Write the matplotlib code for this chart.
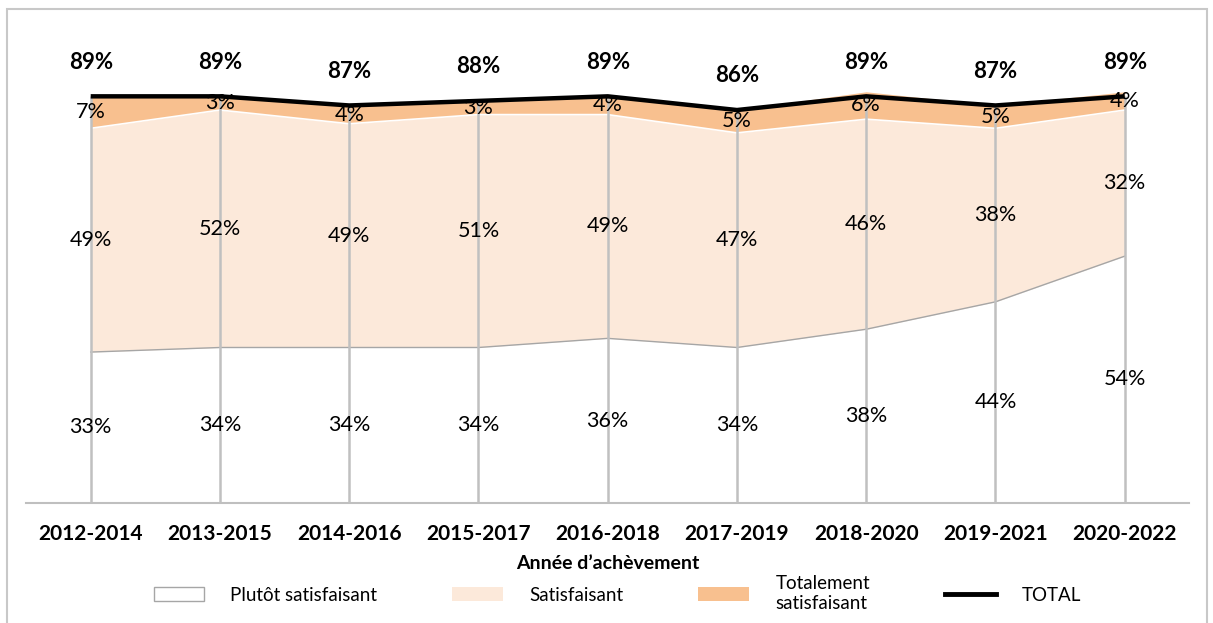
"""Stacked area chart of satisfaction by completion year range."""

import numpy as np
import matplotlib.pyplot as plt
from matplotlib.patches import Patch, Rectangle
from matplotlib.lines import Line2D

plt.rcParams['font.family'] = ['Lato', 'DejaVu Sans']

periods = ['2012-2014', '2013-2015', '2014-2016', '2015-2017', '2016-2018',
           '2017-2019', '2018-2020', '2019-2021', '2020-2022']
plutot = [33, 34, 34, 34, 36, 34, 38, 44, 54]
satisfaisant = [49, 52, 49, 51, 49, 47, 46, 38, 32]
totalement = [7, 3, 4, 3, 4, 5, 6, 5, 4]
total = [89, 89, 87, 88, 89, 86, 89, 87, 89]

x = np.arange(len(periods))
p = np.array(plutot)
s = np.array(satisfaisant)
t = np.array(totalement)

fig = plt.figure(figsize=(12.13, 6.23), dpi=100)
ax = fig.add_axes([0.0215, 0.193, 0.959, 0.733])

# --- stacked areas ---
ax.fill_between(x, 0, p, color='white', lw=0, zorder=1)
ax.plot(x, p, color='#a6a6a6', lw=1, zorder=2)
ax.fill_between(x, p, p + s, color='#fce9da', lw=0, zorder=1)
ax.fill_between(x, p + s, p + s + t, color='#f8c08f', lw=0, zorder=1)
ax.plot(x, p + s, color='white', lw=1.2, zorder=2)

# drop lines
ax.vlines(x, 0, total, color='#c0c0c0', lw=1.8, zorder=3)

# total line
ax.plot(x, total, color='black', lw=3.2, solid_capstyle='butt', zorder=4)

# --- labels ---
for i in x:
    ax.text(i, p[i] / 2, f"{plutot[i]}%", ha='center', va='center', fontsize=15.5, zorder=5)
    ax.text(i, p[i] + s[i] / 2, f"{satisfaisant[i]}%", ha='center', va='center', fontsize=15.5, zorder=5)
    ax.text(i, p[i] + s[i] + t[i] / 2, f"{totalement[i]}%", ha='center', va='center',
            fontsize=15.5, zorder=5)
    ax.text(i, total[i] + 7.5, f"{total[i]}%", ha='center', va='center', fontsize=16,
            fontweight='bold', zorder=5)

ax.set_xlim(-0.5, 8.5)
ax.set_ylim(0, 100)
ax.set_xticks(x)
ax.set_xticklabels(periods, fontsize=15, fontweight='bold')
ax.tick_params(axis='x', length=0, pad=15)
ax.set_yticks([])
ax.spines[['top', 'right', 'left']].set_visible(False)
ax.spines['bottom'].set_color('#bfbfbf')
ax.spines['bottom'].set_linewidth(1.5)
ax.set_xlabel("Année d’achèvement", fontsize=14, fontweight='bold', labelpad=8)

handles = [
    Patch(facecolor='white', edgecolor='#a6a6a6', lw=1),
    Patch(facecolor='#fce9da', edgecolor='none'),
    Patch(facecolor='#f8c08f', edgecolor='none'),
    Line2D([], [], color='black', lw=3.5),
]
labels = ['Plutôt satisfaisant', 'Satisfaisant', 'Totalement\nsatisfaisant', 'TOTAL']
fig.legend(handles, labels, loc='center', bbox_to_anchor=(0.509, 0.047), ncol=4,
           frameon=False, fontsize=13.5, handlelength=2.7, handleheight=0.8,
           columnspacing=4.0, handletextpad=1.4)

# outer frame
fig.patches.append(Rectangle((0.006, -0.05), 0.989, 1.036, transform=fig.transFigure,
                             fill=False, edgecolor='#c8c8c8', lw=1.5))

fig.savefig('out.png', dpi=100)
